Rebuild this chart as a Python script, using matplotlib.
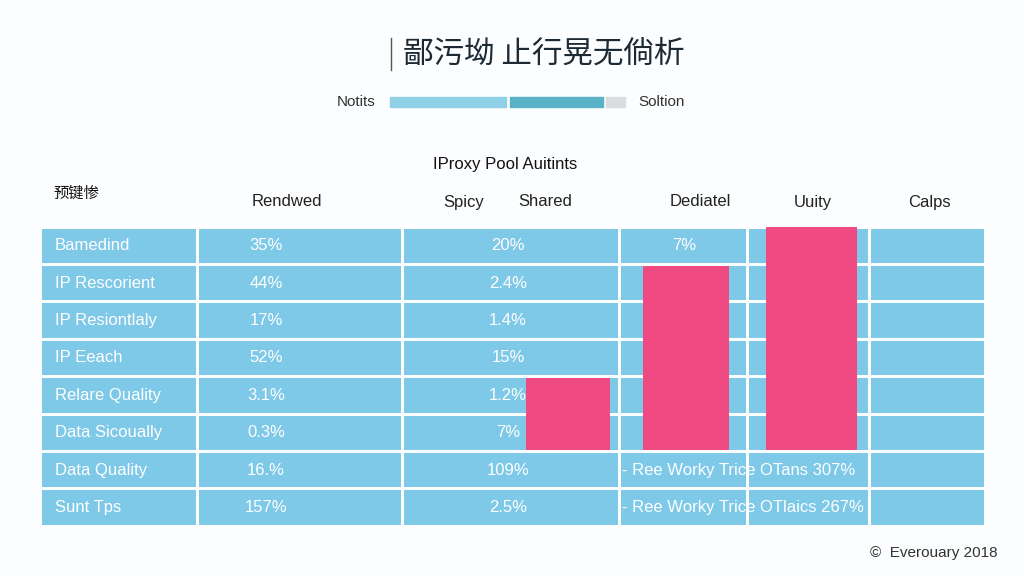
import matplotlib
matplotlib.use("Agg")
import matplotlib.pyplot as plt
from matplotlib.patches import Rectangle
from matplotlib import font_manager as fm

title = "鄙污坳 止行晃无倘析"
subtitle = "IProxy Pool Auitints"
legend_left, legend_right = "Notits", "Soltion"
corner_label = "预键惨"
headers = ["Rendwed", "Spicy", "Shared", "Dediatel", "Uuity", "Calps"]
header_x = [287, 464, 545, 700, 813, 929]
row_labels = ["Bamedind", "IP Rescorient", "IP Resiontlaly", "IP Eeach",
              "Relare Quality", "Data Sicoually", "Data Quality", "Sunt Tps"]
col1_values = ["35%", "44%", "17%", "52%", "3.1%", "0.3%", "16.%", "157%"]
col2_values = ["20%", "2.4%", "1.4%", "15%", "1.2%", "7%", "109%", "2.5%"]
col3_values = ["7%", "", "", "", "", "", "", ""]
notes = ["", "", "", "", "", "", "- Ree Worky Trice OTans 307%", "- Ree Worky Trice OTlaics 267%"]
bar_cols = [2, 3, 4]
bar_start_rows = [4, 1, 0]
bar_end_rows = [5, 5, 5]
footer = "©  Everouary 2018"

cjk_path = None
for f in fm.findSystemFonts():
    if "NotoSansCJK" in f.replace(" ", "") and ("Regular" in f or "CJK-" in f or True):
        cjk_path = f
        if "Regular" in f:
            break
cjk = fm.FontProperties(fname=cjk_path) if cjk_path else fm.FontProperties(family="Noto Sans CJK SC")

col_edges = [40, 197, 402, 619, 747, 869, 985]
bar_x = [(526, 610), (643, 729), (766, 857)]
row_top, row_h = 227, 37.4
BLUE, PINK, BG = "#7ec8e8", "#f04a82", "#fbfdfe"
plt.rcParams["font.family"] = "Liberation Sans"

fig = plt.figure(figsize=(10.24, 5.76), dpi=100, facecolor=BG)
ax = fig.add_axes([0, 0, 1, 1])
ax.set_xlim(0, 1024); ax.set_ylim(576, 0); ax.axis("off")

ax.plot([391, 391], [38, 70], color="#555", lw=1)
ax.text(403, 54, title, fontsize=22, fontproperties=cjk, color="#1e2a33", va="center")
ax.texts[-1].set_fontsize(22)
ax.add_patch(Rectangle((390, 97), 116, 10, color="#8fd0e6"))
ax.add_patch(Rectangle((510, 97), 93, 10, color="#5ab2c9"))
ax.add_patch(Rectangle((606, 97), 19, 10, color="#d9dde0"))
ax.text(376, 102, legend_left, ha="right", va="center", fontsize=11, color="#333")
ax.text(638, 102, legend_right, ha="left", va="center", fontsize=11, color="#333")
ax.text(505, 164, subtitle, ha="center", va="center", fontsize=12, color="#111")
t = ax.text(53, 193, corner_label, fontproperties=cjk, va="center", color="#111")
t.set_fontsize(11)
for h, x in zip(headers, header_x):
    ax.text(x, 202, h, ha="center", va="center", fontsize=12, color="#222")

for r in range(len(row_labels)):
    y = row_top + r * row_h
    for c in range(len(col_edges) - 1):
        ax.add_patch(Rectangle((col_edges[c] + 1.5, y + 1.5), col_edges[c+1] - col_edges[c] - 3,
                               row_h - 3, color=BLUE, lw=0))
for c, s, e in zip(bar_cols, bar_start_rows, bar_end_rows):
    x0, x1 = bar_x[bar_cols.index(c)]
    y0 = row_top + s * row_h + (1.5 if s else 0)
    ax.add_patch(Rectangle((x0, y0), x1 - x0, row_top + (e + 1) * row_h - y0 - 1.5, color=PINK, lw=0))

for r in range(len(row_labels)):
    yc = row_top + (r + 0.5) * row_h
    ax.text(55, yc, row_labels[r], va="center", fontsize=12, color="white")
    ax.text(266, yc, col1_values[r], ha="center", va="center", fontsize=12, color="white")
    ax.text(508, yc, col2_values[r], ha="center", va="center", fontsize=12, color="white")
    if col3_values[r]:
        ax.text(684, yc, col3_values[r], ha="center", va="center", fontsize=12, color="white")
    if notes[r]:
        ax.text(622, yc, notes[r], va="center", fontsize=12, color="white")

ax.text(998, 553, footer, ha="right", va="center", fontsize=11, color="#333")
fig.savefig("out.png", dpi=100, facecolor=BG)
